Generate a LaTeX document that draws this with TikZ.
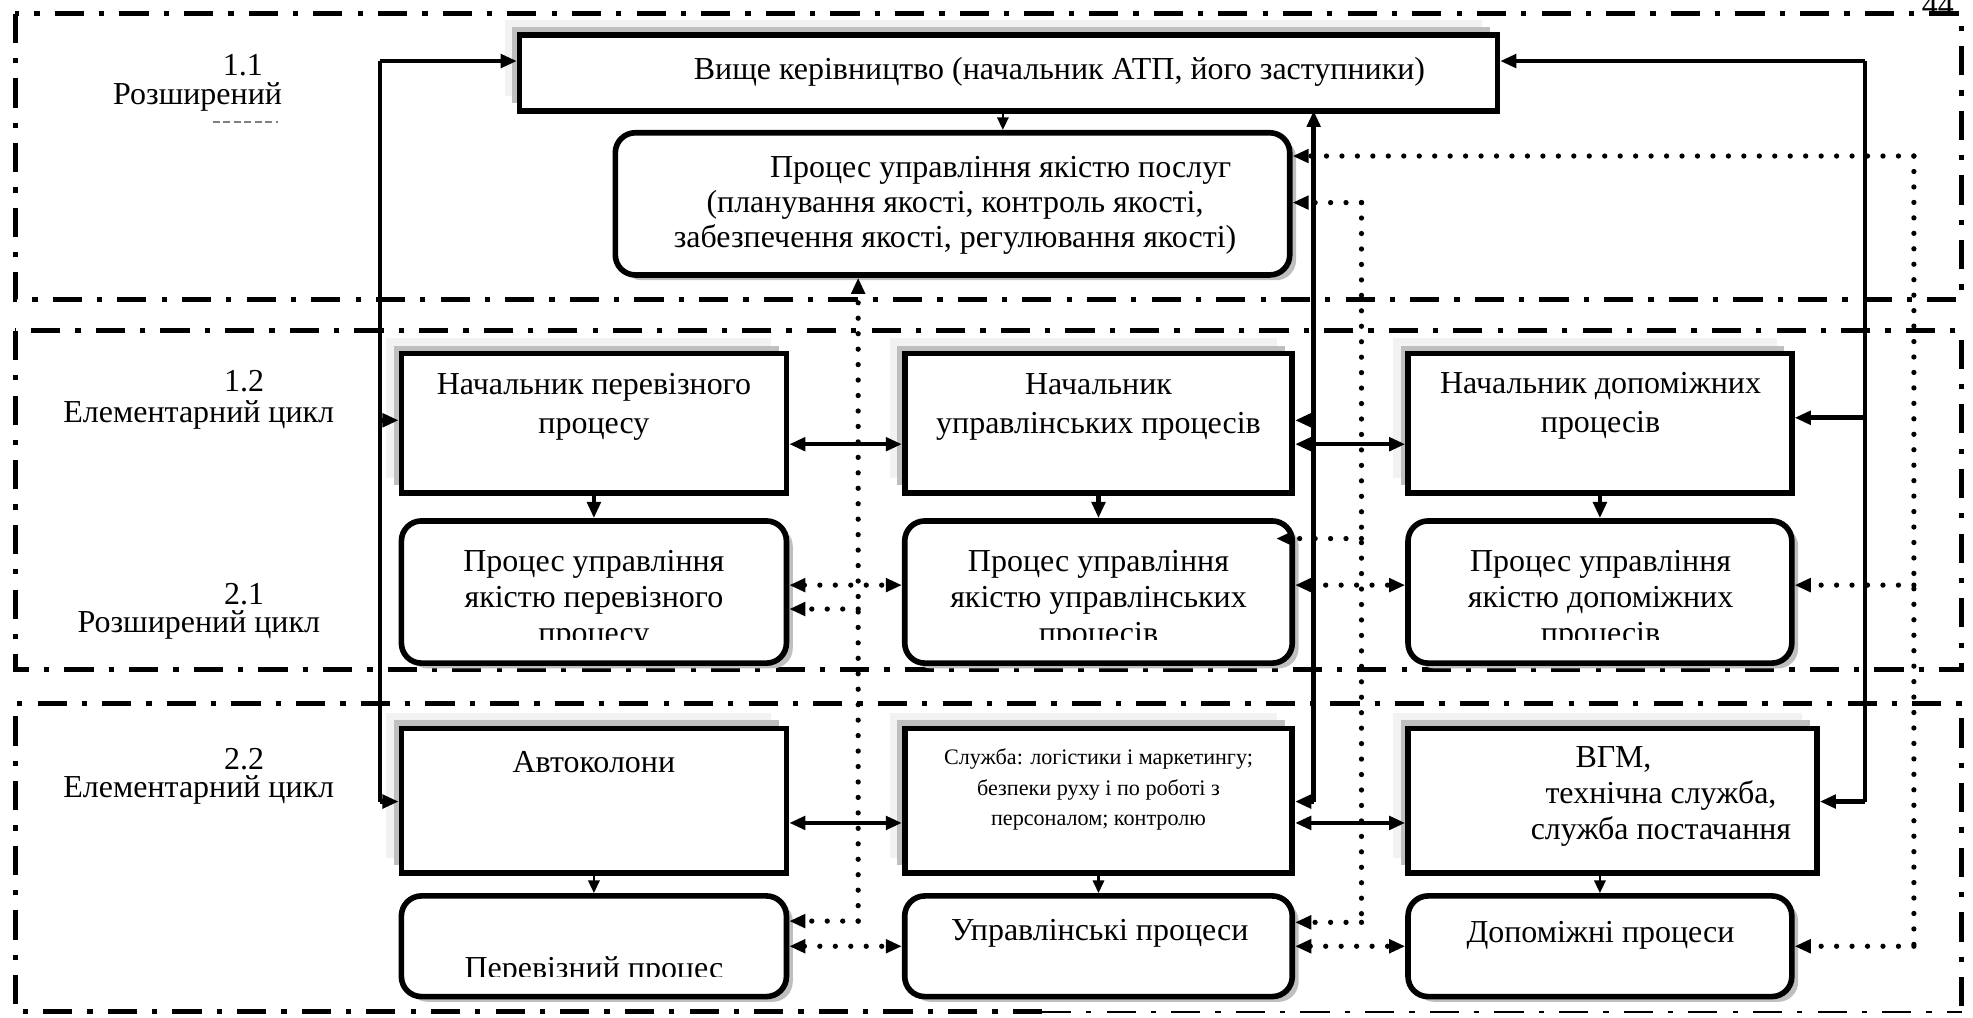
\documentclass[tikz,border=0pt]{standalone}
\usepackage{fontspec}
\setmainfont{Liberation Serif}
\usetikzlibrary{arrows.meta,shadows,calc}
\newlength\px
\setlength\px{0.012583cm}

\begin{document}
\begin{tikzpicture}[x=1\px,y=-1\px,
  >={Triangle[length=4.6pt,width=3.8pt]},
  zone/.style={line width=1.4pt,dash pattern=on 8.3pt off 4.3pt on 1.5pt off 4.3pt},
  sqbox/.style={draw,fill=white,line width=1.6pt,inner sep=0pt,
    general shadow={fill=gray!10,shadow xshift=-4.3pt,shadow yshift=4.3pt},
    general shadow={fill=gray!50,shadow xshift=-2.1pt,shadow yshift=2.3pt}},
  rbox/.style={draw,fill=white,line width=1.6pt,rounded corners=5.7pt,inner sep=0pt,
    general shadow={fill=gray!50,shadow xshift=1.8pt,shadow yshift=-1.5pt}},
  conn/.style={line width=1.3pt},
  thinconn/.style={line width=0.7pt,-{Triangle[length=3.6pt,width=3.2pt]}},
  dconn/.style={line width=1.5pt,dash pattern=on 0pt off 4.4pt,line cap=round},
  txt/.style={align=center,inner sep=0pt,font=\fontsize{9.1}{11}\selectfont}]
\useasboundingbox (0,0) rectangle (1568,809);

\draw[zone] (12,11) rectangle (1559,238);
\draw[zone] (12,263) rectangle (1559,532);
\draw[zone] (828,804) -- (12,804) -- (12,559) -- (1559,559) -- (1559,804);
\draw[zone,line width=0.6pt] (828,804) -- (1559,804);
\node[txt,anchor=base] (pg) at (1540,12) {44};

\node[txt] (z11) at (193,52) {1.1};
\node[txt] (z11b) at (157,77) {Розширений};
\draw[gray,line width=0.4pt,dash pattern=on 2pt off 1pt] (169,97) -- (221,97);
\node[txt] (z12) at (194,303) {1.2};
\node[txt] (z12b) at (158,330) {Елементарний цикл};
\node[txt] (z21) at (194,472) {2.1};
\node[txt] (z21b) at (158,497) {Розширений цикл};
\node[txt] (z22) at (194,603) {2.2};
\node[txt] (z22b) at (158,628) {Елементарний цикл};

\node[sqbox,minimum width=777\px,minimum height=60\px] (top) at (801.5,58) {};
\node[rbox,minimum width=536\px,minimum height=113\px] (q0) at (757,162) {};
\node[sqbox,minimum width=306\px,minimum height=111\px] (n1) at (472,336.5) {};
\node[sqbox,minimum width=308\px,minimum height=111\px] (n2) at (873,336.5) {};
\node[sqbox,minimum width=305\px,minimum height=111\px] (n3) at (1271.5,336.5) {};
\node[rbox,minimum width=306\px,minimum height=113\px] (q1) at (472,470.5) {};
\node[rbox,minimum width=308\px,minimum height=113\px] (q2) at (873,470.5) {};
\node[rbox,minimum width=305\px,minimum height=113\px] (q3) at (1271.5,470.5) {};
\node[sqbox,minimum width=306\px,minimum height=115\px] (a1) at (472,636.5) {};
\node[sqbox,minimum width=308\px,minimum height=115\px] (a2) at (873,636.5) {};
\node[sqbox,minimum width=325\px,minimum height=115\px] (a3) at (1281.5,636.5) {};
\node[rbox,minimum width=306\px,minimum height=80\px] (p1) at (472,752) {};
\node[rbox,minimum width=308\px,minimum height=80\px] (p2) at (873,752) {};
\node[rbox,minimum width=305\px,minimum height=80\px] (p3) at (1271.5,752) {};

\node[txt] (ttop) at (842,57) {Вище керівництво (начальник АТП, його заступники)};
\node[txt,font=\fontsize{9.1}{10}\selectfont] (tq0) at (759,163)
  {\hspace*{26pt}Процес управління якістю послуг\\(планування якості, контроль якості,\\забезпечення якості, регулювання якості)};
\node[txt,font=\fontsize{9.1}{11.1}\selectfont] (tn1) at (472,323.5) {Начальник перевізного\\процесу};
\node[txt,font=\fontsize{9.1}{11.1}\selectfont] (tn2) at (873,323.5) {Начальник\\управлінських процесів};
\node[txt,font=\fontsize{9.1}{11.1}\selectfont] (tn3) at (1272,322.5) {Начальник допоміжних\\процесів};
\begin{scope}
\clip (300,400) rectangle (1450,508);
\node[txt,font=\fontsize{9.1}{10.3}\selectfont] (tq1) at (472,477) {Процес управління\\якістю перевізного\\процесу};
\node[txt,font=\fontsize{9.1}{10.3}\selectfont] (tq2) at (873,477) {Процес управління\\якістю управлінських\\процесів};
\node[txt,font=\fontsize{9.1}{10.3}\selectfont] (tq3) at (1272,477) {Процес управління\\якістю допоміжних\\процесів};
\end{scope}
\node[txt] (ta1) at (472,606) {Автоколони};
\node[txt,font=\fontsize{6.3}{8.6}\selectfont] (ta2) at (873,627.5)
  {Служба: логістики і маркетингу;\\безпеки руху і по роботі з\\персоналом; контролю};
\node[txt,font=\fontsize{9.1}{10.2}\selectfont] (ta3) at (1320,633)
  {ВГМ,\hspace*{27pt}\\технічна служба,\\служба постачання};
\begin{scope}
\clip (300,700) rectangle (650,776);
\node[txt] (tp1) at (472,772) {Перевізний процес};
\end{scope}
\node[txt] (tp2) at (874,742) {Управлінські процеси};
\node[txt] (tp3) at (1272,743) {Допоміжні процеси};

\coordinate (lt) at (302,48.5);
\coordinate (lb) at (302,637);
\coordinate (l1) at (302,334);
\draw[conn] (lt) -- (lb);
\draw[conn,->] (lt) -- (lt -| top.west);
\draw[conn,->] (l1) -- (l1 -| n1.west);
\draw[conn,->] (lb) -- (lb -| a1.west);

\coordinate (rt) at (1482,48.5);
\coordinate (rb) at (1482,637);
\coordinate (r1) at (1482,332);
\draw[conn] (rt) -- (rb);
\draw[conn,->] (rt) -- (rt -| top.east);
\draw[conn,->] (r1) -- (r1 -| n3.east);
\draw[conn,->] (rb) -- (rb -| a3.east);

\coordinate (mt) at (1044,88);
\coordinate (mb) at (1044,637);
\coordinate (m1) at (1044,334);
\draw[conn,->] (mb) -- (mt);
\draw[conn,->] (mb) -- (mb -| a2.east);
\draw[conn,->] (m1) -- (m1 -| n2.east);

\coordinate (h1) at (0,353);
\coordinate (h2) at (0,654);
\draw[conn,<->] (n1.east |- h1) -- (n2.west |- h1);
\draw[conn,<->] (n2.east |- h1) -- (n3.west |- h1);
\draw[conn,<->] (a1.east |- h2) -- (a2.west |- h2);
\draw[conn,<->] (a2.east |- h2) -- (a3.west |- h2);

\coordinate (tq) at (797,88);
\draw[thinconn] (tq) -- (tq |- q0.north);
\draw[conn,->] (n1.south) -- (q1.north);
\draw[conn,->] (n2.south) -- (q2.north);
\draw[conn,->] (n3.south) -- (q3.north);
\draw[thinconn] (a1.south) -- (p1.north);
\draw[thinconn] (a2.south) -- (p2.north);
\draw[thinconn] (p3.north |- a3.south) -- (p3.north);

\coordinate (da) at (682,732);
\coordinate (da1) at (682,484);
\draw[dconn,->] (da) -- (da |- q0.south);
\draw[dconn,->] (da1) -- (da1 -| q1.east);
\draw[dconn,->] (da) -- (da -| p1.east);

\coordinate (db0) at (1082,161);
\coordinate (db) at (1082,733);
\coordinate (db1) at (1082,428);
\draw[dconn] (db0) -- (db);
\draw[dconn,->] (db0) -- (db0 -| q0.east);
\draw[dconn,->] (db1) -- ($(db1 -| q2.east)+(-15,0)$);
\draw[dconn,->] (db) -- (db -| p2.east);

\coordinate (dc0) at (1521,124);
\coordinate (dc) at (1521,752);
\coordinate (dc1) at (1521,465);
\draw[dconn] (dc0) -- (dc);
\draw[dconn,->] (dc0) -- (dc0 -| q0.east);
\draw[dconn,->] (dc1) -- (dc1 -| q3.east);
\draw[dconn,->] (dc) -- (dc -| p3.east);

\coordinate (h3) at (0,465);
\coordinate (h4) at (0,752);
\draw[dconn,<->] (q1.east |- h3) -- (q2.west |- h3);
\draw[dconn,<->] (q2.east |- h3) -- (q3.west |- h3);
\draw[dconn,<->] (p1.east |- h4) -- (p2.west |- h4);
\draw[dconn,<->] (p2.east |- h4) -- (p3.west |- h4);
\end{tikzpicture}
\end{document}
